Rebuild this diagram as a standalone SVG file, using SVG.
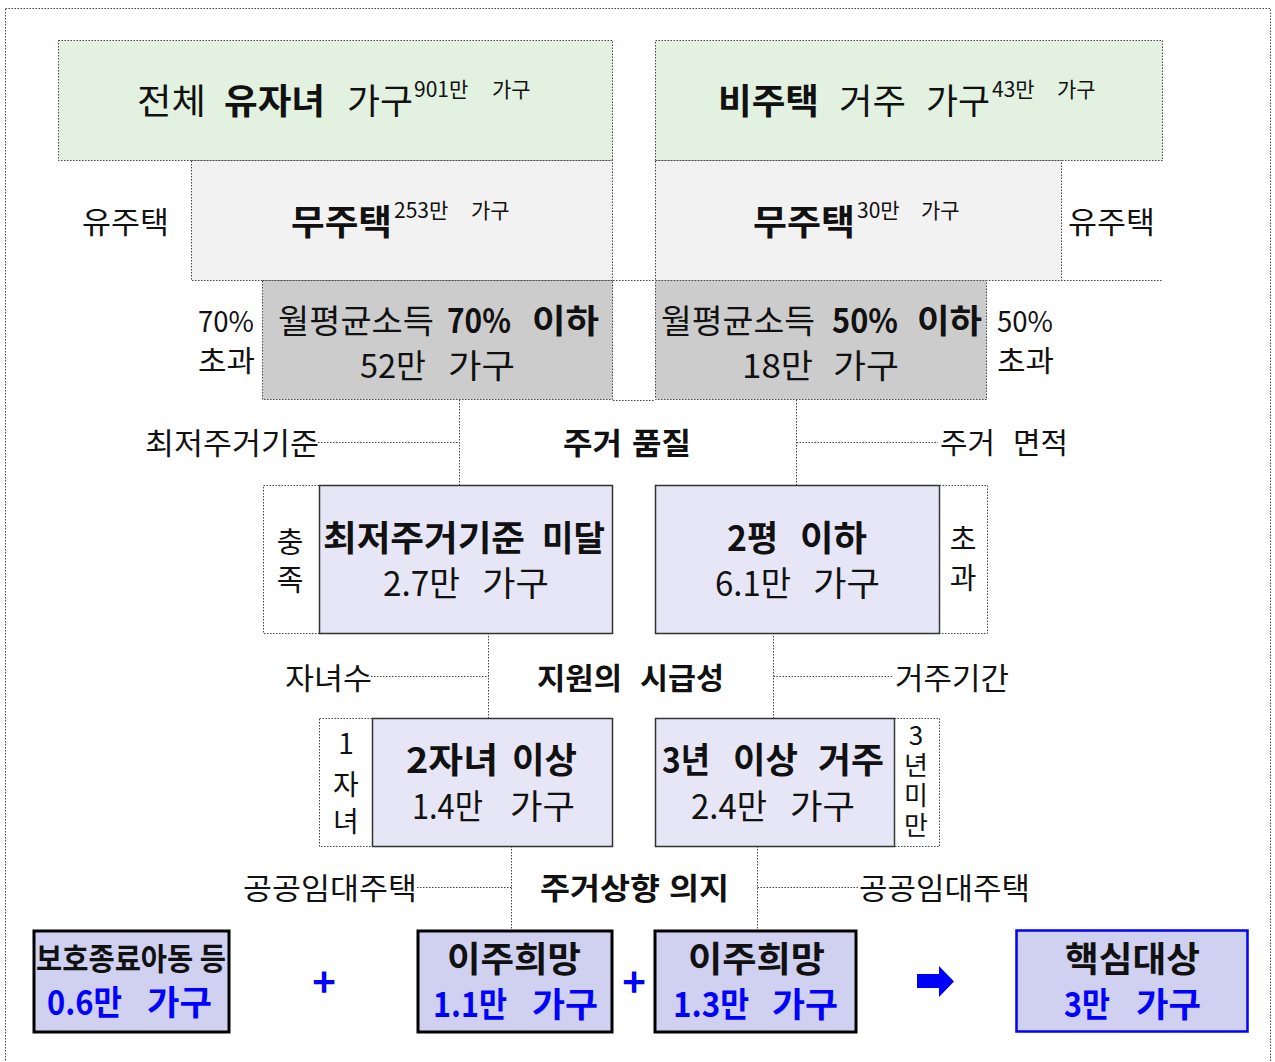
<svg xmlns="http://www.w3.org/2000/svg" width="1275" height="1062" viewBox="0 0 1275 1062">
<style>
text{font-family:"Noto Sans CJK KR","Noto Sans",sans-serif;fill:#111}
.b{font-weight:bold}
.t35{font-size:35px}
.t34{font-size:34px}
.t33{font-size:33px}
.t30{font-size:30px}
.t29{font-size:29px}
.sup{font-size:21px}
.dot{fill:none;stroke:#444;stroke-width:1;stroke-dasharray:1.5 1.5}
.conn{fill:none;stroke:#444;stroke-width:1;stroke-dasharray:1.5 1.5}
.mid{fill:#e6e6f6;stroke:#333;stroke-width:1.5}
.bot{fill:#d0d0f0;stroke:#000;stroke-width:3}
.blue{fill:#0000ff}
.c{text-anchor:middle}
</style>
<rect x="5.5" y="8.5" width="1265" height="1070" class="dot"/>

<g id="all-families">
<rect x="58.5" y="40.5" width="554" height="120" class="dot" style="fill:#e2f1e0"/>
<text class="t35" y="114"><tspan x="137" textLength="69" lengthAdjust="spacingAndGlyphs">전체</tspan><tspan x="224" class="b" textLength="101" lengthAdjust="spacingAndGlyphs">유자녀</tspan><tspan x="347" textLength="66" lengthAdjust="spacingAndGlyphs">가구</tspan><tspan class="sup" x="414" y="97">901만</tspan><tspan class="sup" x="492" y="97">가구</tspan></text>
</g>
<g id="non-housing">
<rect x="655.5" y="40.5" width="507" height="120" class="dot" style="fill:#e2f1e0"/>
<text class="t35" y="114"><tspan x="718" class="b" textLength="101" lengthAdjust="spacingAndGlyphs">비주택</tspan><tspan x="839" textLength="67" lengthAdjust="spacingAndGlyphs">거주</tspan><tspan x="926" textLength="64" lengthAdjust="spacingAndGlyphs">가구</tspan><tspan class="sup" x="992" y="97">43만</tspan><tspan class="sup" x="1057" y="97">가구</tspan></text>
</g>
<g id="homeless-left">
<rect x="191.5" y="160.5" width="421" height="120" class="dot" style="fill:#f2f2f2"/>
<text class="t35" y="235"><tspan x="291" class="b" textLength="101" lengthAdjust="spacingAndGlyphs">무주택</tspan><tspan class="sup" x="394" y="218">253만</tspan><tspan class="sup" x="471" y="218">가구</tspan></text>
</g>
<g id="homeless-right">
<rect x="655.5" y="160.5" width="406" height="120" class="dot" style="fill:#f2f2f2"/>
<text class="t35" y="235"><tspan x="753" class="b" textLength="102" lengthAdjust="spacingAndGlyphs">무주택</tspan><tspan class="sup" x="857" y="218">30만</tspan><tspan class="sup" x="921" y="218">가구</tspan></text>
</g>
<g id="own-left"><text class="t30" x="82" y="233" textLength="87" lengthAdjust="spacingAndGlyphs">유주택</text></g>
<g id="own-right"><text class="t30" x="1068" y="233" textLength="87" lengthAdjust="spacingAndGlyphs">유주택</text></g>

<g id="income70">
<rect x="262.5" y="280.5" width="350" height="119" class="dot" style="fill:#cccccc"/>
<text class="t33" y="333"><tspan x="278" textLength="156" lengthAdjust="spacingAndGlyphs">월평균소득</tspan><tspan x="447" class="b" textLength="64" lengthAdjust="spacingAndGlyphs">70%</tspan><tspan x="532" class="b" textLength="67" lengthAdjust="spacingAndGlyphs">이하</tspan></text>
<text class="t33" y="378"><tspan x="360" textLength="66" lengthAdjust="spacingAndGlyphs">52만</tspan><tspan x="448" textLength="67" lengthAdjust="spacingAndGlyphs">가구</tspan></text>
</g>
<g id="income70-over"><text class="t29" y="332"><tspan x="198" textLength="56" lengthAdjust="spacingAndGlyphs">70%</tspan><tspan x="198" y="372" textLength="57" lengthAdjust="spacingAndGlyphs">초과</tspan></text></g>
<g id="income50">
<rect x="655.5" y="280.5" width="331" height="119" class="dot" style="fill:#cccccc"/>
<text class="t33" y="333"><tspan x="661" textLength="154" lengthAdjust="spacingAndGlyphs">월평균소득</tspan><tspan x="832" class="b" textLength="66" lengthAdjust="spacingAndGlyphs">50%</tspan><tspan x="917" class="b" textLength="65" lengthAdjust="spacingAndGlyphs">이하</tspan></text>
<text class="t33" y="378"><tspan x="742" textLength="71" lengthAdjust="spacingAndGlyphs">18만</tspan><tspan x="833" textLength="66" lengthAdjust="spacingAndGlyphs">가구</tspan></text>
</g>
<g id="income50-over"><text class="t29" y="332"><tspan x="997" textLength="56" lengthAdjust="spacingAndGlyphs">50%</tspan><tspan x="997" y="372" textLength="57" lengthAdjust="spacingAndGlyphs">초과</tspan></text></g>

<g id="connectors">
<path class="conn" d="M613 280.5H655M1061 280.5H1162M613 400.5H655"/>
<path class="conn" d="M459.5 400V485M318 442.5H459.5"/>
<path class="conn" d="M796.5 400V485M796.5 442.5H938"/>
<path class="conn" d="M488.5 633V718M371 676.5H488.5"/>
<path class="conn" d="M773.5 633V718M773.5 676.5H893"/>
<path class="conn" d="M511.5 846V930M417 887.5H511.5"/>
<path class="conn" d="M757.5 846V930M757.5 887.5H858"/>
</g>

<g id="label-min-std"><text class="t30" x="145" y="454" textLength="174" lengthAdjust="spacingAndGlyphs">최저주거기준</text></g>
<g id="label-quality"><text class="t30 b" y="454"><tspan x="563" textLength="59" lengthAdjust="spacingAndGlyphs">주거</tspan><tspan x="632" textLength="59" lengthAdjust="spacingAndGlyphs">품질</tspan></text></g>
<g id="label-area"><text class="t29" y="454"><tspan x="940" textLength="55" lengthAdjust="spacingAndGlyphs">주거</tspan><tspan x="1013" textLength="55" lengthAdjust="spacingAndGlyphs">면적</tspan></text></g>

<g id="below-min">
<rect x="263.5" y="485.5" width="56" height="148" class="dot"/>
<text class="t29 c" x="290" y="553">충<tspan x="290" y="591">족</tspan></text>
<rect x="319.5" y="485.5" width="293" height="148" class="mid"/>
<text class="t35 b" y="551"><tspan x="323" textLength="202" lengthAdjust="spacingAndGlyphs">최저주거기준</tspan><tspan x="542" textLength="63" lengthAdjust="spacingAndGlyphs">미달</tspan></text>
<text class="t34" y="596"><tspan x="383" textLength="77" lengthAdjust="spacingAndGlyphs">2.7만</tspan><tspan x="482" textLength="67" lengthAdjust="spacingAndGlyphs">가구</tspan></text>
</g>
<g id="under-2py">
<rect x="655.5" y="485.5" width="284" height="148" class="mid"/>
<rect x="939.5" y="485.5" width="48" height="148" class="dot"/>
<text class="t29 c" x="963" y="550">초<tspan x="963" y="589">과</tspan></text>
<text class="t35 b" y="551"><tspan x="727" textLength="51" lengthAdjust="spacingAndGlyphs">2평</tspan><tspan x="800" textLength="67" lengthAdjust="spacingAndGlyphs">이하</tspan></text>
<text class="t34" y="596"><tspan x="715" textLength="76" lengthAdjust="spacingAndGlyphs">6.1만</tspan><tspan x="813" textLength="67" lengthAdjust="spacingAndGlyphs">가구</tspan></text>
</g>

<g id="label-children"><text class="t30" x="285" y="689" textLength="87" lengthAdjust="spacingAndGlyphs">자녀수</text></g>
<g id="label-urgency"><text class="t30 b" y="689"><tspan x="537" textLength="85" lengthAdjust="spacingAndGlyphs">지원의</tspan><tspan x="640" textLength="84" lengthAdjust="spacingAndGlyphs">시급성</tspan></text></g>
<g id="label-period"><text class="t30" x="895" y="689" textLength="114" lengthAdjust="spacingAndGlyphs">거주기간</text></g>

<g id="two-children">
<rect x="319.5" y="718.5" width="53" height="128" class="dot"/>
<text class="c" style="font-size:28px" x="346" y="754">1<tspan x="346" y="795">자</tspan><tspan x="346" y="832">녀</tspan></text>
<rect x="372.5" y="718.5" width="240" height="128" class="mid"/>
<text class="t35 b" y="773"><tspan x="406" textLength="92" lengthAdjust="spacingAndGlyphs">2자녀</tspan><tspan x="512" textLength="65" lengthAdjust="spacingAndGlyphs">이상</tspan></text>
<text class="t34" y="819"><tspan x="412" textLength="71" lengthAdjust="spacingAndGlyphs">1.4만</tspan><tspan x="510" textLength="65" lengthAdjust="spacingAndGlyphs">가구</tspan></text>
</g>
<g id="three-years">
<rect x="655.5" y="718.5" width="239" height="128" class="mid"/>
<rect x="894.5" y="718.5" width="45" height="128" class="dot"/>
<text x="916" y="722" style="font-size:26px;writing-mode:vertical-rl;text-orientation:upright;letter-spacing:4px">3년미만</text>
<text class="t35 b" y="773"><tspan x="662" textLength="48" lengthAdjust="spacingAndGlyphs">3년</tspan><tspan x="733" textLength="65" lengthAdjust="spacingAndGlyphs">이상</tspan><tspan x="818" textLength="66" lengthAdjust="spacingAndGlyphs">거주</tspan></text>
<text class="t34" y="819"><tspan x="691" textLength="76" lengthAdjust="spacingAndGlyphs">2.4만</tspan><tspan x="790" textLength="65" lengthAdjust="spacingAndGlyphs">가구</tspan></text>
</g>

<g id="label-public-left"><text class="t30" x="243" y="899" textLength="174" lengthAdjust="spacingAndGlyphs">공공임대주택</text></g>
<g id="label-will"><text class="t30 b" y="899"><tspan x="540" textLength="120" lengthAdjust="spacingAndGlyphs">주거상향</tspan><tspan x="669" textLength="60" lengthAdjust="spacingAndGlyphs">의지</tspan></text></g>
<g id="label-public-right"><text class="t30" x="859" y="899" textLength="171" lengthAdjust="spacingAndGlyphs">공공임대주택</text></g>

<g id="protected">
<rect x="34" y="931" width="195" height="101" class="bot"/>
<text class="b" style="font-size:31px" x="36" y="970" textLength="190" lengthAdjust="spacingAndGlyphs">보호종료아동 등</text>
<text class="t34 b blue" y="1015"><tspan x="47" textLength="75" lengthAdjust="spacingAndGlyphs">0.6만</tspan><tspan x="147" textLength="65" lengthAdjust="spacingAndGlyphs">가구</tspan></text>
</g>
<g id="plus1"><text class="b blue c" style="font-size:40px" x="324" y="997">+</text></g>
<g id="move-left">
<rect x="418" y="931" width="194" height="101" class="bot"/>
<text class="t35 b" x="447" y="972" textLength="134" lengthAdjust="spacingAndGlyphs">이주희망</text>
<text class="t34 b blue" y="1017"><tspan x="433" textLength="74" lengthAdjust="spacingAndGlyphs">1.1만</tspan><tspan x="532" textLength="66" lengthAdjust="spacingAndGlyphs">가구</tspan></text>
</g>
<g id="plus2"><text class="b blue c" style="font-size:40px" x="634" y="997">+</text></g>
<g id="move-right">
<rect x="655" y="931" width="201" height="101" class="bot"/>
<text class="t35 b" x="688" y="972" textLength="137" lengthAdjust="spacingAndGlyphs">이주희망</text>
<text class="t34 b blue" y="1017"><tspan x="673" textLength="76" lengthAdjust="spacingAndGlyphs">1.3만</tspan><tspan x="772" textLength="66" lengthAdjust="spacingAndGlyphs">가구</tspan></text>
</g>
<g id="arrow"><path d="M917 974H939V966L954 981.5L939 997V988H917Z" fill="#0000ff"/></g>
<g id="core">
<rect x="1016.5" y="930.5" width="231" height="101" fill="#d0d0f0" stroke="#0000ff" stroke-width="2.5"/>
<text class="t35 b" x="1065" y="972" textLength="135" lengthAdjust="spacingAndGlyphs">핵심대상</text>
<text class="t34 b blue" y="1017"><tspan x="1064" textLength="46" lengthAdjust="spacingAndGlyphs">3만</tspan><tspan x="1136" textLength="65" lengthAdjust="spacingAndGlyphs">가구</tspan></text>
</g>
</svg>
